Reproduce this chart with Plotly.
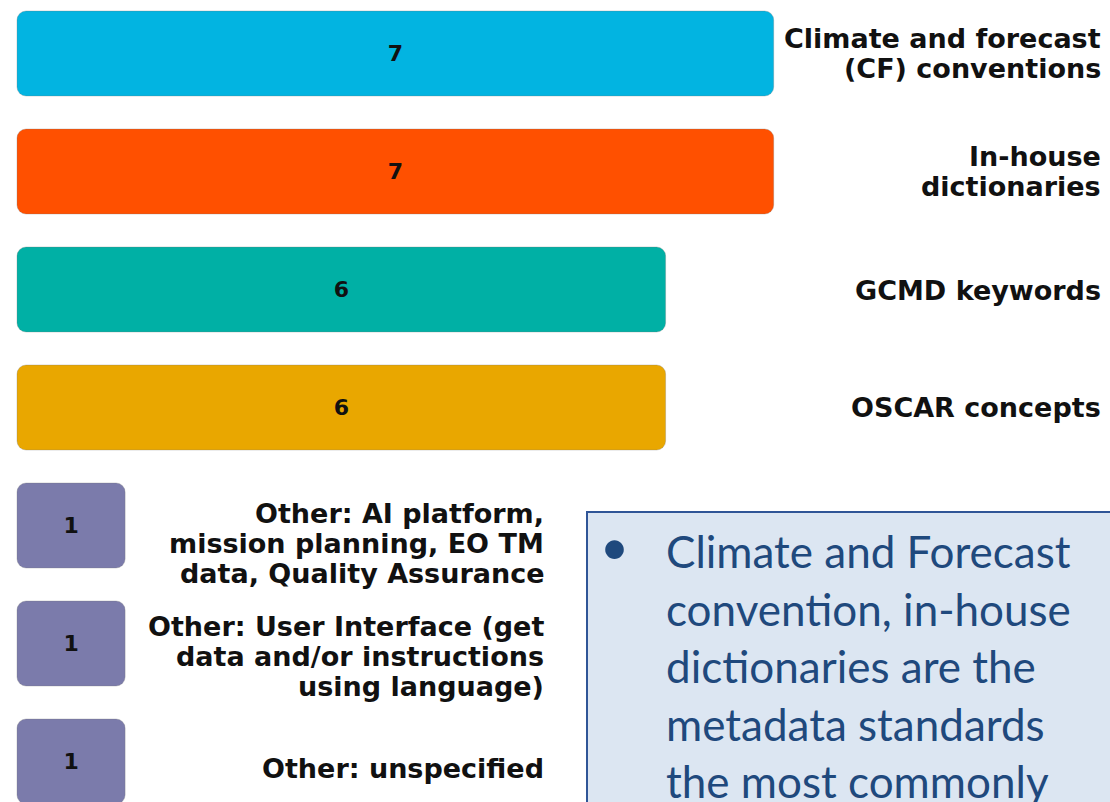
import plotly.graph_objects as go

# Metadata standards named by respondents, with the number of mentions
categories = [
    "Climate and forecast<br>(CF) conventions",
    "In-house<br>dictionaries",
    "GCMD keywords",
    "OSCAR concepts",
    "Other: AI platform,<br>mission planning, EO TM<br>data, Quality Assurance",
    "Other: User Interface (get<br>data and/or instructions<br>using language)",
    "Other: unspecified",
]
counts = [7, 7, 6, 6, 1, 1, 1]

bar_colors = ["#02B4E1", "#FF5000", "#00B0A5", "#E9A700", "#7B7BAB", "#7B7BAB", "#7B7BAB"]

# Callout text shown in the lower-right box
note_lines = [
    "Climate and Forecast",
    "convention, in-house",
    "dictionaries are the",
    "metadata standards",
    "the most commonly",
]

W, H = 1110, 802
PX_PER_UNIT = 108.1          # horizontal pixels per mention
LEFT_PAD = 17                # pixels left of the zero line
ROW_PX = 118                 # pixels per category row
FIRST_ROW_PX = 53.5          # centre of first row from top

x_range = [-LEFT_PAD / PX_PER_UNIT, (W - LEFT_PAD) / PX_PER_UNIT]
y_top = -FIRST_ROW_PX / ROW_PX
y_bottom = (H - FIRST_ROW_PX) / ROW_PX

fig = go.Figure()
# An explicit base makes plotly round both ends of every bar
fig.add_trace(go.Bar(
    x=counts, base=[0] * len(counts), y=categories, orientation="h",
    marker=dict(color=bar_colors, cornerradius=9,
                line=dict(color="rgba(120,120,120,0.3)", width=1)),
    text=[str(c) for c in counts],
    textposition="inside",
    insidetextanchor="middle",
    textangle=0,
    constraintext="none",
    textfont=dict(family="DejaVu Sans", size=22, color="#111111", weight="bold"),
    hoverinfo="skip",
))

# Category labels: the long-bar rows are right-aligned at the page edge,
# the short "Other" rows sit just left of the callout box.
label_font = dict(family="DejaVu Sans", size=27, color="#111111", weight="bold")
label_right_wide = (1103 - LEFT_PAD) / PX_PER_UNIT
label_right_narrow = (546 - LEFT_PAD) / PX_PER_UNIT
label_yshift = [0, 0, -1, 0, -18, -13, -7]
LINE_PX = 30

annotations = []
for i, (cat, c) in enumerate(zip(categories, counts)):
    parts = cat.split("<br>")
    n = len(parts)
    for j, part in enumerate(parts):
        annotations.append(dict(
            x=label_right_wide if c > 1 else label_right_narrow,
            y=cat, xref="x", yref="y",
            text=part,
            showarrow=False, xanchor="right", yanchor="middle", align="right",
            yshift=label_yshift[i] - (j - (n - 1) / 2) * LINE_PX,
            font=label_font,
        ))

# Callout box
box_left, box_top = 587, 512
shapes = [dict(
    type="rect", xref="paper", yref="paper",
    x0=box_left / W, x1=1.05, y0=-0.05, y1=1 - box_top / H,
    fillcolor="#DCE6F2", line=dict(color="#2F5597", width=2), layer="above",
)]

note_font = dict(family="Lato", size=44, color="#1F497D")
line_step = 57.5
first_line_center = 551
for k, line in enumerate(note_lines):
    annotations.append(dict(
        x=664 / W, y=1 - (first_line_center + k * line_step) / H,
        xref="paper", yref="paper",
        text=line, showarrow=False, xanchor="left", yanchor="middle",
        font=note_font,
    ))
annotations.append(dict(
    x=614 / W, y=1 - 546 / H, xref="paper", yref="paper",
    text="•", showarrow=False, xanchor="center", yanchor="middle",
    font=dict(family="Lato", size=50, color="#1F497D"),
))

fig.update_layout(
    width=W, height=H,
    margin=dict(l=0, r=0, t=0, b=0),
    paper_bgcolor="white", plot_bgcolor="white",
    bargap=0.28,
    showlegend=False,
    xaxis=dict(range=x_range, visible=False, fixedrange=True),
    yaxis=dict(type="category", range=[y_bottom, y_top], visible=False, fixedrange=True),
    shapes=shapes,
    annotations=annotations,
)

fig.write_html("out.html", config={"displayModeBar": False})
